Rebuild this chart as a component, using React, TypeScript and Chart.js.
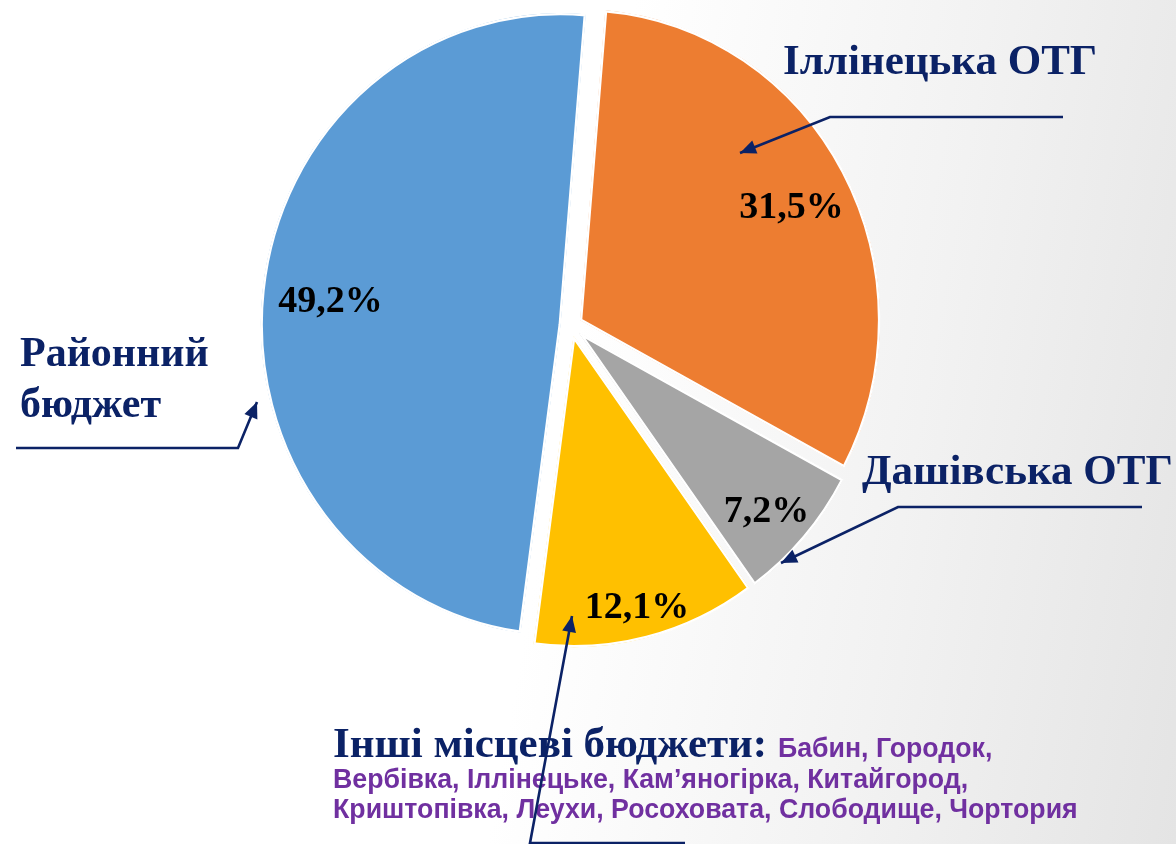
import { useEffect, useRef } from "react";
import { Chart, registerables } from "chart.js";

Chart.register(...registerables);

// ---- data ----
const categories = ["Іллінецька ОТГ", "Дашівська ОТГ", "Інші місцеві бюджети", "Районний бюджет"];
const shares = [31.5, 7.2, 12.1, 49.2];
const shareLabels = ["31,5%", "7,2%", "12,1%", "49,2%"];
const sliceColors = ["#ED7D31", "#A5A5A5", "#FFC000", "#5B9BD5"];
const otherBudgetLines = [
  "Бабин, Городок,",
  "Вербівка, Іллінецьке, Кам’яногірка, Китайгород,",
  "Криштопівка, Леухи, Росоховата, Слободище, Чортория",
];

// ---- styling ----
const W = 1176;
const H = 844;
const NAVY = "#0B2266";
const PURPLE = "#7030A0";
const SERIF = '"Liberation Serif", "Times New Roman", serif';
const SANS = '"Liberation Sans", Arial, sans-serif';
const STRETCH_Y = 1.038;
const EXPLODE = 10.5; // px each slice is pulled out along its bisector
// value label placement: fraction of radius, angular tweak (deg)
const labelFrac = [0.79, 0.85, 0.9, 0.77];
const labelTurn = [1.5, 1.5, 0.5, -1];

function arrow(ctx: CanvasRenderingContext2D, pts: number[][]) {
  ctx.save();
  ctx.strokeStyle = NAVY;
  ctx.fillStyle = NAVY;
  ctx.lineWidth = 2.6;
  ctx.beginPath();
  ctx.moveTo(pts[0][0], pts[0][1]);
  for (let i = 1; i < pts.length; i++) ctx.lineTo(pts[i][0], pts[i][1]);
  ctx.stroke();
  const [x1, y1] = pts[pts.length - 2];
  const [x2, y2] = pts[pts.length - 1];
  const a = Math.atan2(y2 - y1, x2 - x1);
  const len = 16;
  const half = 7;
  ctx.beginPath();
  ctx.moveTo(x2, y2);
  ctx.lineTo(x2 - len * Math.cos(a) + half * Math.sin(a), y2 - len * Math.sin(a) - half * Math.cos(a));
  ctx.lineTo(x2 - len * Math.cos(a) - half * Math.sin(a), y2 - len * Math.sin(a) + half * Math.cos(a));
  ctx.closePath();
  ctx.fill();
  ctx.restore();
}

// pulls each pie slice outwards (exploded pie) and applies the slight vertical stretch
const explodePlugin = {
  id: "explode",
  beforeDatasetsDraw(chart: any) {
    const ctx = chart.ctx;
    const cy = (chart.chartArea.top + chart.chartArea.bottom) / 2;
    ctx.save();
    ctx.translate(0, cy);
    ctx.scale(1, STRETCH_Y);
    ctx.translate(0, -cy);
    const meta = chart.getDatasetMeta(0);
    meta.data.forEach((arc: any) => {
      if (arc.__exploded) return;
      const orig = arc.draw;
      arc.draw = function (c: CanvasRenderingContext2D, area: any) {
        const mid = (this.startAngle + this.endAngle) / 2;
        c.save();
        c.translate(Math.cos(mid) * EXPLODE, Math.sin(mid) * EXPLODE);
        orig.call(this, c, area);
        c.restore();
      };
      arc.__exploded = true;
    });
  },
  afterDatasetsDraw(chart: any) {
    chart.ctx.restore();
  },
};

const labelPlugin = {
  id: "labels",
  afterDraw(chart: any) {
    const ctx: CanvasRenderingContext2D = chart.ctx;
    const meta = chart.getDatasetMeta(0);
    const cy = (chart.chartArea.top + chart.chartArea.bottom) / 2;
    ctx.save();
    ctx.fillStyle = "#000";
    ctx.font = `bold 38px ${SERIF}`;
    ctx.textAlign = "center";
    ctx.textBaseline = "middle";
    meta.data.forEach((arc: any, i: number) => {
      const mid = (arc.startAngle + arc.endAngle) / 2;
      const ax = arc.x + Math.cos(mid) * EXPLODE;
      const ay = arc.y + Math.sin(mid) * EXPLODE;
      const ang = mid + (labelTurn[i] * Math.PI) / 180;
      const r = arc.outerRadius * labelFrac[i];
      const x = ax + Math.cos(ang) * r;
      const y = cy + (ay + Math.sin(ang) * r - cy) * STRETCH_Y;
      ctx.fillText(shareLabels[i], x, y);
    });
    ctx.restore();

    // callout labels
    ctx.save();
    ctx.fillStyle = NAVY;
    ctx.textBaseline = "alphabetic";
    ctx.textAlign = "left";
    ctx.font = `bold 42px ${SERIF}`;
    const parts = categories[3].split(" ");
    ctx.fillText(parts[0], 20, 366);
    ctx.fillText(parts[1], 20, 417);
    ctx.font = `bold 43px ${SERIF}`;
    ctx.fillText(categories[0], 783, 74);
    ctx.fillText(categories[1], 862, 484);
    ctx.fillText(categories[2] + ":", 333, 757);
    const w = ctx.measureText(categories[2] + ": ").width;
    ctx.fillStyle = PURPLE;
    ctx.font = `bold 24px ${SANS}`;
    const fit = (24 * 745) / ctx.measureText(otherBudgetLines[2]).width;
    ctx.font = `bold ${fit.toFixed(2)}px ${SANS}`;
    ctx.fillText(otherBudgetLines[0], 333 + w, 757);
    ctx.fillText(otherBudgetLines[1], 333, 788);
    ctx.fillText(otherBudgetLines[2], 333, 818);
    ctx.restore();

    arrow(ctx, [[16, 448], [238, 448], [257, 402]]);
    arrow(ctx, [[1063, 117], [830, 117], [740, 153]]);
    arrow(ctx, [[1142, 507], [898, 507], [781, 563]]);
    arrow(ctx, [[685, 843], [530, 843], [572, 616]]);
  },
};

export default function App() {
  const ref = useRef<HTMLCanvasElement | null>(null);
  useEffect(() => {
    if (!ref.current) return;
    const chart = new Chart(ref.current, {
      type: "pie",
      data: {
        labels: categories,
        datasets: [
          {
            data: shares,
            backgroundColor: sliceColors,
            borderColor: "#ffffff",
            borderWidth: 2,
            borderAlign: "inner",
            offset: 0,
            hoverOffset: 0,
          } as any,
        ],
      },
      options: {
        animation: false,
        responsive: false,
        events: [],
        rotation: 4.8,
        radius: 300,
        layout: { padding: { left: 0, right: 34, top: 0, bottom: 193 } },
        plugins: { legend: { display: false }, tooltip: { enabled: false } },
      } as any,
      plugins: [explodePlugin, labelPlugin],
    });
    return () => chart.destroy();
  }, []);
  return (
    <div
      style={{
        position: "absolute",
        left: 0,
        top: 0,
        width: W,
        height: H,
        overflow: "hidden",
        background: "linear-gradient(100deg, #ffffff 0%, #ffffff 48%, #f2f2f2 75%, #e4e4e4 100%)",
      }}
    >
      <canvas ref={ref} width={W} height={H} style={{ display: "block" }} />
    </div>
  );
}
